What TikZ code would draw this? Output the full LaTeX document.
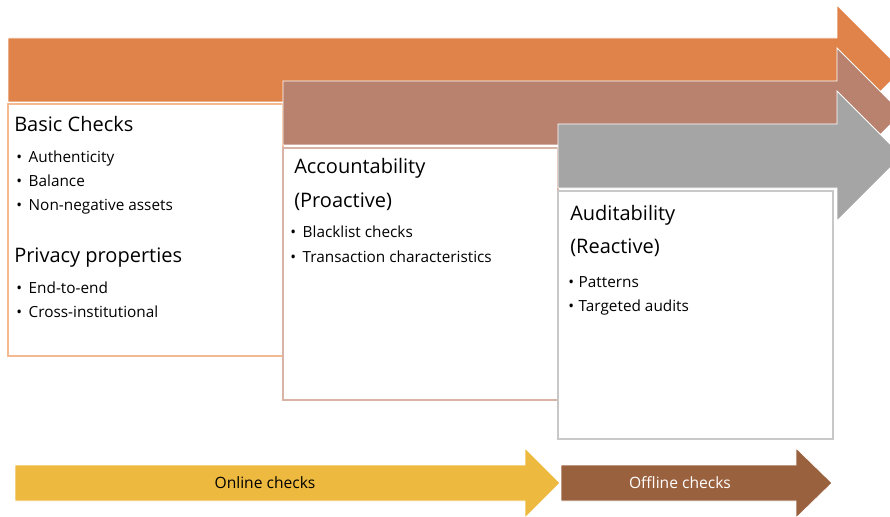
\documentclass[tikz,border=0pt]{standalone}
\usepackage{fontspec}
\setmainfont{Open Sans}
\usetikzlibrary{positioning}
\definecolor{arrA}{HTML}{E0834A}
\definecolor{arrB}{HTML}{B9826F}
\definecolor{arrC}{HTML}{A5A5A5}
\definecolor{arrD}{HTML}{EDB93E}
\definecolor{arrE}{HTML}{9A613E}
\definecolor{boxA}{HTML}{F4B990}
\definecolor{boxB}{HTML}{D8B3A6}
\definecolor{boxC}{HTML}{C8C8C8}
\begin{document}
\begin{tikzpicture}[x=0.75pt,y=-0.75pt,
head/.style={anchor=base west,inner sep=0pt,font=\fontsize{15}{18}\selectfont},
item/.style={anchor=base west,inner sep=0pt,font=\fontsize{11.5}{14}\selectfont},
band/.style={inner sep=0pt,font=\fontsize{11.7}{14}\selectfont},
card/.style={fill=white,line width=1pt}]
\useasboundingbox(0,0)rectangle(890,517);
\clip(0,0)rectangle(890,517);
\fill[arrA,draw=white,line width=0.6pt](8,38)--++(829,0)--++(0,-33)--++(65,65)--++(-65,65)
--++(0,-33)--++(-829,0)--cycle;
\draw[card,draw=boxA](8,104)rectangle(283,356);
\fill[arrB,draw=white,line width=0.6pt](283,81)--++(554,0)--++(0,-33)--++(65,65)--++(-65,65)
--++(0,-33)--++(-554,0)--cycle;
\draw[card,draw=boxB](283,148)rectangle(558,400);
\fill[arrC,draw=white,line width=0.6pt](558,124)--++(279,0)--++(0,-33)--++(65,65)--++(-65,65)
--++(0,-33)--++(-279,0)--cycle;
\draw[card,draw=boxC](558,191)rectangle(833,439);

\node[head](T1)at(14,132){Basic Checks};
\node[item](I1)at(16,162){\textbullet\hspace{5pt}Authenticity};
\node[item](I2)at(16,186){\textbullet\hspace{5pt}Balance};
\node[item](I3)at(16,210){\textbullet\hspace{5pt}Non-negative assets};
\node[head](T2)at(14,262){Privacy properties};
\node[item](I4)at(16,293){\textbullet\hspace{5pt}End-to-end};
\node[item](I5)at(16,317){\textbullet\hspace{5pt}Cross-institutional};

\node[head](T3)at(294,173){Accountability};
\node[head](T4)at(294,207){(Proactive)};
\node[item](I6)at(290,238){\textbullet\hspace{5pt}Blacklist checks};
\node[item](I7)at(290,262){\textbullet\hspace{5pt}Transaction characteristics};

\node[head](T5)at(570,220){Auditability};
\node[head](T6)at(570,253){(Reactive)};
\node[item](I8)at(568,287){\textbullet\hspace{3.5pt}Patterns};
\node[item](I9)at(568,311){\textbullet\hspace{3.5pt}Targeted audits};

\fill[arrD,draw=white,line width=0.6pt](15,465)--++(510,0)--++(0,-17)--++(35,35)--++(-35,35)
--++(0,-17)--++(-510,0)--cycle;
\node[band](L1)at(265,483){Online checks};
\fill[arrE,draw=white,line width=0.6pt](561,465)--++(235,0)--++(0,-17)--++(36,35)--++(-36,35)
--++(0,-17)--++(-235,0)--cycle;
\node[band,white](L2)at(680,483){Offline checks};
\end{tikzpicture}
\end{document}
